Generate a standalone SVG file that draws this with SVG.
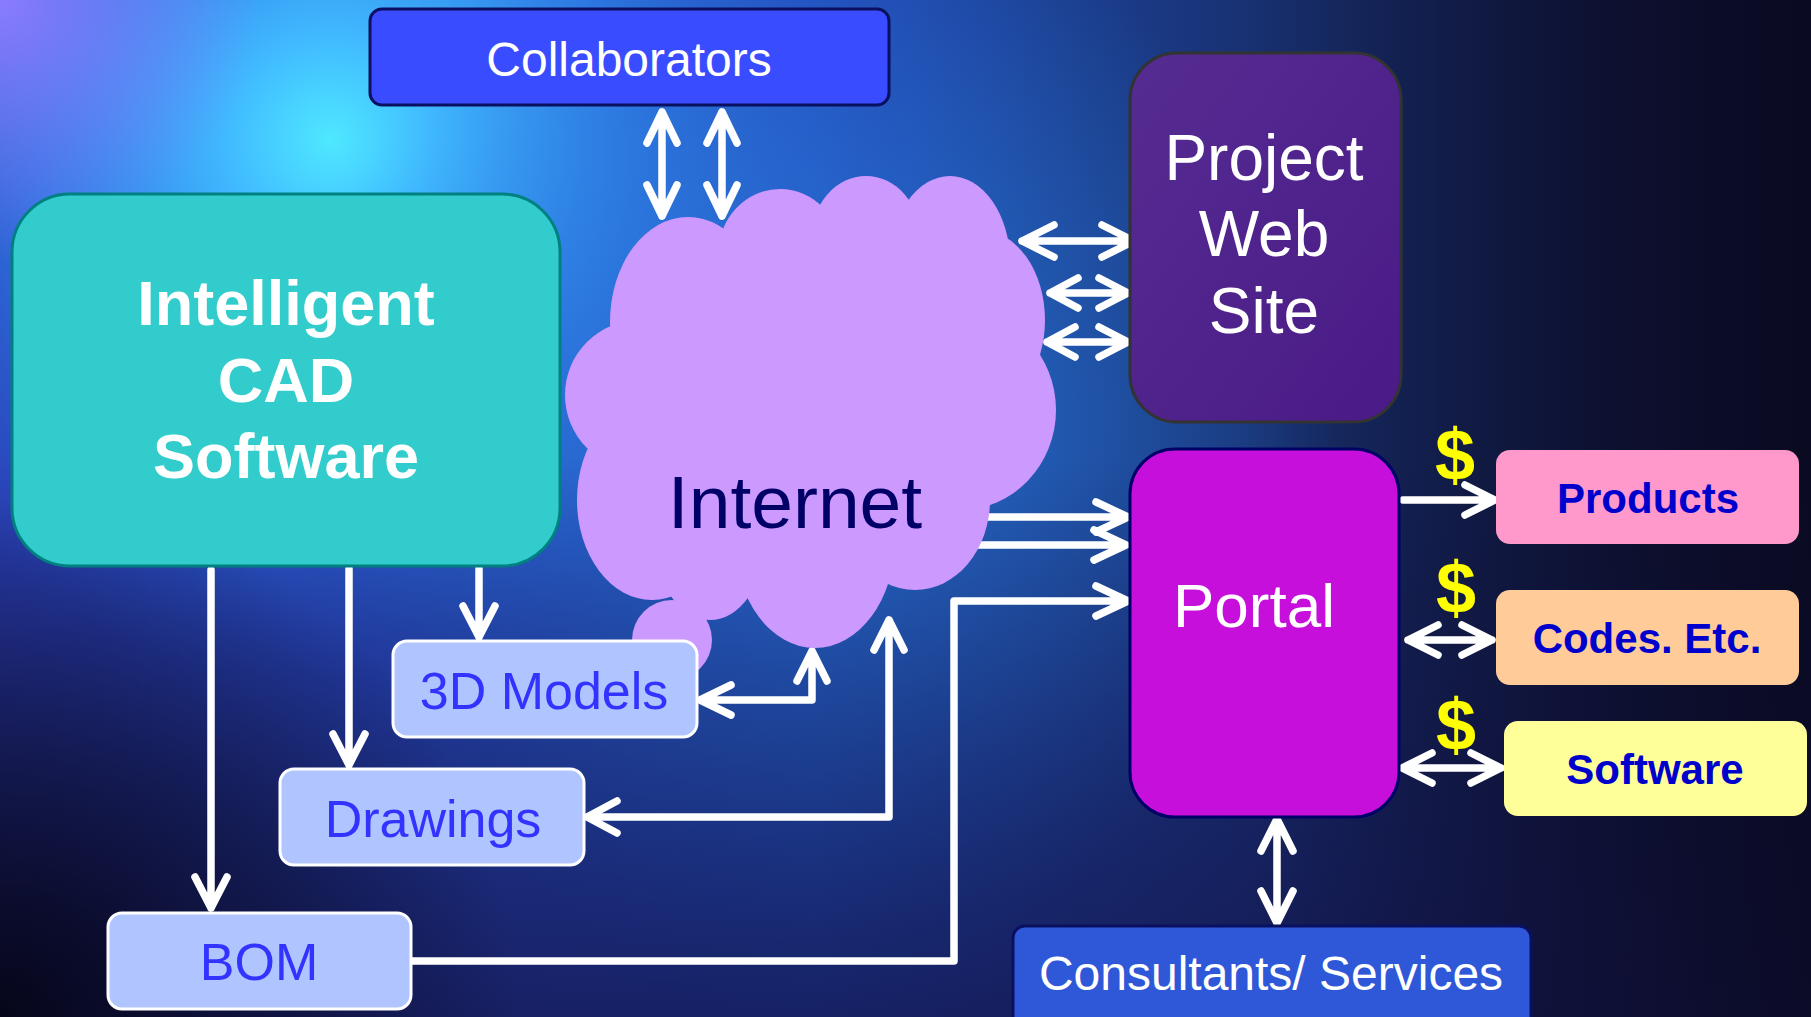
<svg xmlns="http://www.w3.org/2000/svg" width="1811" height="1017" viewBox="0 0 1811 1017">
<defs>
  <linearGradient id="bgBase" x1="0" y1="0" x2="1" y2="0">
    <stop offset="0" stop-color="#2c3cb0"/>
    <stop offset="0.45" stop-color="#2050b8"/>
    <stop offset="0.7" stop-color="#183070"/>
    <stop offset="1" stop-color="#0c0c28"/>
  </linearGradient>
  <radialGradient id="glowCyan" cx="330" cy="140" r="720" gradientUnits="userSpaceOnUse">
    <stop offset="0" stop-color="#4ee8ff"/>
    <stop offset="0.15" stop-color="#40b8ff"/>
    <stop offset="0.4" stop-color="#2f80ea" stop-opacity="0.85"/>
    <stop offset="0.75" stop-color="#2545c0" stop-opacity="0.35"/>
    <stop offset="1" stop-color="#2040b0" stop-opacity="0"/>
  </radialGradient>
  <radialGradient id="glowMid" cx="820" cy="420" r="520" gradientUnits="userSpaceOnUse">
    <stop offset="0" stop-color="#2a80dd" stop-opacity="0.7"/>
    <stop offset="1" stop-color="#2a80dd" stop-opacity="0"/>
  </radialGradient>
  <radialGradient id="cornerPurple" cx="0" cy="0" r="260" gradientUnits="userSpaceOnUse">
    <stop offset="0" stop-color="#8a7cff"/>
    <stop offset="1" stop-color="#8a7cff" stop-opacity="0"/>
  </radialGradient>
  <radialGradient id="darkBL" cx="0" cy="1017" r="520" gradientUnits="userSpaceOnUse">
    <stop offset="0" stop-color="#06061a"/>
    <stop offset="1" stop-color="#06061a" stop-opacity="0"/>
  </radialGradient>
  <linearGradient id="darkBottom" x1="0" y1="0" x2="0" y2="1">
    <stop offset="0.45" stop-color="#141650" stop-opacity="0"/>
    <stop offset="1" stop-color="#141650" stop-opacity="0.8"/>
  </linearGradient>
  <linearGradient id="darkRight" x1="1250" y1="0" x2="1811" y2="0" gradientUnits="userSpaceOnUse">
    <stop offset="0" stop-color="#0a0a22" stop-opacity="0"/>
    <stop offset="1" stop-color="#0a0a22" stop-opacity="0.85"/>
  </linearGradient>
  <linearGradient id="gProject" x1="0" y1="0" x2="1" y2="1">
    <stop offset="0" stop-color="#552c92"/>
    <stop offset="1" stop-color="#4a1a86"/>
  </linearGradient>
</defs>
<style>
  .conn { fill: none; stroke: #ffffff; stroke-width: 7.5; stroke-linecap: round; stroke-linejoin: round; }
  .t { font-family: "Liberation Sans", Arial, sans-serif; text-anchor: middle; }
  .w { fill: #ffffff; }
  .sm { fill: #b0c4ff; stroke: #ffffff; stroke-width: 3; }
  .smt { font-size: 52px; fill: #3333ff; }
  .side { font-size: 42px; font-weight: bold; fill: #0000cc; }
  .dollar { font-size: 72px; font-weight: bold; fill: #ffff00; }
</style>

<!-- background -->
<rect x="0" y="0" width="1811" height="1017" fill="url(#bgBase)"/>
<rect x="0" y="0" width="1811" height="1017" fill="url(#glowCyan)"/>
<rect x="0" y="0" width="1811" height="1017" fill="url(#glowMid)"/>
<rect x="0" y="0" width="1811" height="1017" fill="url(#darkBottom)"/>
<rect x="0" y="0" width="1811" height="1017" fill="url(#darkRight)"/>
<rect x="0" y="0" width="1811" height="1017" fill="url(#cornerPurple)"/>
<rect x="0" y="0" width="1811" height="1017" fill="url(#darkBL)"/>

<g id="connectors">
  <path class="conn" d="M662 112 V216 M647 143 L662 112 L677 143 M647 185 L662 216 L677 185"/>
  <path class="conn" d="M722 112 V216 M707 143 L722 112 L737 143 M707 185 L722 216 L737 185"/>
  <path class="conn" d="M1022 241 H1134 M1054 225 L1022 241 L1054 257 M1102 225 L1134 241 L1102 257"/>
  <path class="conn" d="M1050 293 H1128 M1078 278 L1050 293 L1078 308 M1099 278 L1128 293 L1099 308"/>
  <path class="conn" d="M1047 342 H1128 M1075 327 L1047 342 L1075 357 M1099 327 L1128 342 L1099 357"/>
  <path class="conn" d="M975 517 H1128 M1096 502 L1128 517 L1096 532"/>
  <path class="conn" d="M975 545 H1126 M1094 530 L1126 545 L1094 560"/>
  <path class="conn" d="M411 961 H954 V601 H1128 M1096 586 L1128 601 L1096 616"/>
  <path class="conn" d="M479 569 V637 M463 606 L479 637 L495 606"/>
  <path class="conn" d="M349 569 V765 M333 734 L349 765 L365 734"/>
  <path class="conn" d="M211 570 V908 M195 877 L211 908 L227 877"/>
  <path class="conn" d="M700 700 H812 V651 M731 685 L700 700 L731 715 M797 681 L812 651 L827 681"/>
  <path class="conn" d="M587 817 H889 V620 M617 801 L587 817 L617 833 M874 650 L889 620 L904 650"/>
  <path class="conn" d="M1403 500 H1495 M1465 485 L1495 500 L1465 515"/>
  <path class="conn" d="M1408 640 H1492 M1438 625 L1408 640 L1438 655 M1462 625 L1492 640 L1462 655"/>
  <path class="conn" d="M1402 768 H1501 M1432 753 L1402 768 L1432 783 M1471 753 L1501 768 L1471 783"/>
  <path class="conn" d="M1277 819 V923 M1261 851 L1277 819 L1293 851 M1261 891 L1277 923 L1293 891"/>
</g>

<g id="internet">
  <g fill="#cc99ff">
    <ellipse cx="688" cy="322" rx="78" ry="105"/>
    <ellipse cx="780" cy="255" rx="62" ry="66"/>
    <ellipse cx="866" cy="240" rx="55" ry="64"/>
    <ellipse cx="950" cy="262" rx="60" ry="86"/>
    <ellipse cx="980" cy="320" rx="65" ry="90"/>
    <ellipse cx="960" cy="410" rx="96" ry="100"/>
    <ellipse cx="915" cy="500" rx="75" ry="90"/>
    <ellipse cx="815" cy="540" rx="80" ry="108"/>
    <ellipse cx="710" cy="540" rx="55" ry="80"/>
    <circle cx="672" cy="640" r="40"/>
    <ellipse cx="652" cy="500" rx="75" ry="100"/>
    <ellipse cx="640" cy="395" rx="75" ry="75"/>
    <ellipse cx="810" cy="400" rx="200" ry="180"/>
  </g>
  <text class="t" x="795" y="528" font-size="75" fill="#000066">Internet</text>
</g>

<g id="collaborators">
  <rect x="370" y="9" width="519" height="96" rx="12" fill="#3a4cff" stroke="#0a1060" stroke-width="3"/>
  <text class="t w" x="629" y="76" font-size="48">Collaborators</text>
</g>

<g id="cad">
  <rect x="12" y="194" width="548" height="372" rx="58" fill="#33cccc" stroke="#008080" stroke-width="3"/>
  <text class="t w" x="286" y="325" font-size="63" font-weight="bold">Intelligent</text>
  <text class="t w" x="286" y="402" font-size="63" font-weight="bold">CAD</text>
  <text class="t w" x="286" y="478" font-size="63" font-weight="bold">Software</text>
</g>

<g id="project">
  <rect x="1130" y="53" width="271" height="369" rx="47" fill="url(#gProject)" stroke="#333333" stroke-width="3"/>
  <text class="t w" x="1264" y="180" font-size="64">Project</text>
  <text class="t w" x="1264" y="256" font-size="64">Web</text>
  <text class="t w" x="1264" y="333" font-size="64">Site</text>
</g>

<g id="portal">
  <rect x="1130" y="449" width="269" height="368" rx="45" fill="#c70fdc" stroke="#000066" stroke-width="3"/>
  <text class="t w" x="1254" y="627" font-size="62">Portal</text>
</g>

<g id="consultants">
  <rect x="1013" y="926" width="518" height="110" rx="12" fill="#2f58d8" stroke="#0a1060" stroke-width="3"/>
  <text class="t w" x="1271" y="990" font-size="48">Consultants/ Services</text>
</g>

<g id="models3d">
  <rect class="sm" x="393" y="641" width="304" height="96" rx="14"/>
  <text class="t smt" x="544" y="709">3D Models</text>
</g>

<g id="drawings">
  <rect class="sm" x="280" y="769" width="304" height="96" rx="14"/>
  <text class="t smt" x="433" y="837">Drawings</text>
</g>

<g id="bom">
  <rect class="sm" x="108" y="913" width="303" height="96" rx="14"/>
  <text class="t smt" x="259" y="980">BOM</text>
</g>

<g id="products">
  <rect x="1496" y="450" width="303" height="94" rx="14" fill="#ff99cc"/>
  <text class="t side" x="1648" y="513">Products</text>
</g>

<g id="codes">
  <rect x="1496" y="590" width="303" height="95" rx="14" fill="#ffcc99"/>
  <text class="t side" x="1647" y="653">Codes. Etc.</text>
</g>

<g id="software">
  <rect x="1504" y="721" width="303" height="95" rx="14" fill="#ffff99"/>
  <text class="t side" x="1655" y="784">Software</text>
</g>

<g id="prices">
  <text class="t dollar" x="1455" y="480">$</text>
  <text class="t dollar" x="1456" y="613">$</text>
  <text class="t dollar" x="1456" y="750">$</text>
</g>
</svg>
